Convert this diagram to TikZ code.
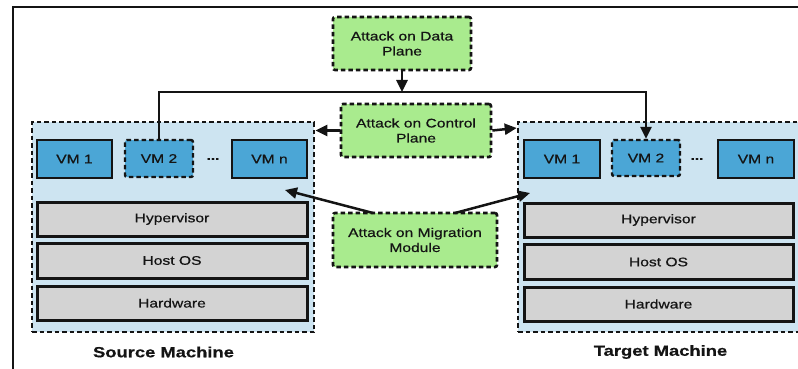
\documentclass[tikz,border=0pt]{standalone}
\usepackage{fontspec}
\setmainfont{Liberation Sans}[FakeStretch=1.25, FakeBold=0.6]
\usetikzlibrary{arrows.meta}

\definecolor{machfill}{HTML}{CDE4F1}
\definecolor{vmfill}{HTML}{4BA6D6}
\definecolor{layerfill}{HTML}{D3D3D3}
\definecolor{attackfill}{HTML}{A9EB8E}
\definecolor{ink}{HTML}{141414}

\tikzset{
  base/.style={font=\fontsize{12.5}{15}\selectfont, text=ink, align=center, inner sep=0pt},
  machine/.style={base, draw=ink, fill=machfill, line width=2.6pt, dash pattern=on 4.5pt off 3pt},
  vmbox/.style={base, draw=ink, fill=vmfill, line width=2.4pt},
  vmdash/.style={vmbox, dash pattern=on 4.5pt off 3pt, rounded corners=2pt},
  layer/.style={base, draw=ink, fill=layerfill, line width=3pt},
  attack/.style={base, draw=ink, fill=attackfill, line width=2.6pt, dash pattern=on 4.5pt off 3pt, rounded corners=2pt},
  caption/.style={base, font=\fontsize{14.7}{17}\selectfont\bfseries},
  dotsnode/.style={base, font=\fontsize{12.5}{15}\selectfont\bfseries},
  conn/.style={draw=ink, line width=2.5pt},
  arr/.style={conn, -{Triangle[length=12pt,width=11pt]}}
}

\begin{document}
\begin{tikzpicture}[x=1pt, y=-1pt]
  \useasboundingbox (0,0) rectangle (798,369);
  \clip (0,0) rectangle (798,369);

  % page frame
  \draw[draw=ink, line width=1.8pt] (13,369) -- (13,7) -- (798,7);

  % machines
  \node[machine, minimum width=282pt, minimum height=210pt] (src) at (173,227) {};
  \node[machine, minimum width=282pt, minimum height=210pt] (tgt) at (659,227) {};

  % source machine contents
  \node[vmbox, minimum width=75pt, minimum height=38pt] (s1) at (74.5,159) {VM 1};
  \node[vmdash, minimum width=68pt, minimum height=37pt] (s2) at (159,158.5) {VM 2};
  \node[dotsnode] (sdots) at (213,159) {...};
  \node[vmbox, minimum width=75pt, minimum height=38pt] (sn) at (269.5,159) {VM n};
  \node[layer, minimum width=270pt, minimum height=34pt] (shyp) at (172,219) {Hypervisor};
  \node[layer, minimum width=270pt, minimum height=35pt] (sos) at (172,260.5) {Host OS};
  \node[layer, minimum width=270pt, minimum height=34pt] (shw) at (172,303) {Hardware};

  % target machine contents
  \node[vmbox, minimum width=76pt, minimum height=38pt] (t1) at (562,159) {VM 1};
  \node[vmdash, minimum width=68pt, minimum height=36pt] (t2) at (646,158) {VM 2};
  \node[dotsnode] (tdots) at (697,159) {...};
  \node[vmbox, minimum width=76pt, minimum height=38pt] (tn) at (756,159) {VM n};
  \node[layer, minimum width=269pt, minimum height=34pt] (thyp) at (658.5,220) {Hypervisor};
  \node[layer, minimum width=269pt, minimum height=35pt] (tos) at (658.5,262) {Host OS};
  \node[layer, minimum width=269pt, minimum height=34pt] (thw) at (658.5,304) {Hardware};

  % machine captions
  \node[caption] (srccap) at (163.5,352) {Source Machine};
  \node[caption] (tgtcap) at (660.5,352) {Target Machine};

  % attack points
  \node[attack, minimum width=138pt, minimum height=53pt] (data) at (402,43.5) {Attack on Data\\Plane};
  \node[attack, minimum width=150pt, minimum height=53pt] (ctrl) at (416,130.5) {Attack on Control\\Plane};
  \node[attack, minimum width=164pt, minimum height=54pt] (mig) at (415,240) {Attack on Migration\\Module};

  % data plane path between the two VM 2 instances
  \coordinate (busL) at (159,92);
  \coordinate (busR) at (646,92);
  \draw[arr] (s2.north) -- (busL) -- (busR) -- (t2.north);
  \draw[arr] (data.south) -- (data.south |- busL);

  % control plane attacks
  \draw[arr] (ctrl.west) -- (src.east |- ctrl.west);
  \draw[arr] (ctrl.east) -- (tgt.west |- 0,128);

  % migration module attacks
  \coordinate (migL) at (373,213);
  \coordinate (migR) at (455,213);
  \coordinate (srcport) at (285,190);
  \coordinate (tgtport) at (530,193);
  \draw[arr] (migL) -- (srcport);
  \draw[arr] (migR) -- (tgtport);
\end{tikzpicture}
\end{document}
